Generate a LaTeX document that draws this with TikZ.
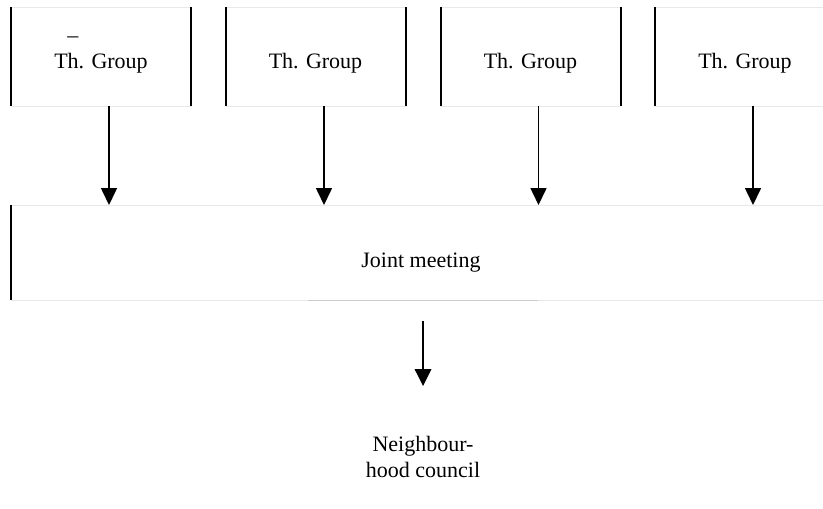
\documentclass[tikz,border=0pt]{standalone}
\usepackage{fontspec}
\setmainfont{Liberation Serif}
\usetikzlibrary{arrows.meta}
\begin{document}
\begin{tikzpicture}[x=0.75pt,y=-0.75pt,
  faint/.style={draw=black!9, line width=0.75pt},
  groupbox/.style={faint, minimum width=135pt, minimum height=74.25pt, inner sep=0pt, outer sep=0pt},
  jointbox/.style={faint, minimum width=615pt, minimum height=71.25pt, inner sep=0pt, outer sep=0pt},
  side/.style={draw=black, line width=1.5pt},
  lbl/.style={anchor=base, inner sep=0pt, font=\fontsize{16.5pt}{19.5pt}\selectfont},
  arr/.style={-{Triangle[length=12.75pt,width=12pt]}, line width=1.2pt},
  arrthin/.style={-{Triangle[length=12.75pt,width=12.5pt]}, line width=1pt}
]
\clip (0,0) rectangle (823,508);
\fill[white] (0,0) rectangle (823,508);

% group boxes
\node[groupbox] (g1) at (101,56.5) {};
\node[groupbox] (g2) at (316,56.5) {};
\node[groupbox] (g3) at (530.5,56.5) {};
\node[groupbox] (g4) at (745,56.5) {};
\foreach \g in {g1,g2,g3,g4}{
  \draw[side] (\g.north west) -- (\g.south west);
  \draw[side] (\g.north east) -- (\g.south east);
}
\node[lbl] (d1) at (72.8,42) {–};
\node[lbl] (t1) at (101,68) {Th. Group};
\node[lbl] (t2) at (315.5,68) {Th. Group};
\node[lbl] (t3) at (530.5,68) {Th. Group};
\node[lbl] (t4) at (745,68) {Th. Group};

% joint meeting
\node[jointbox] (jm) at (421,252.5) {};
\draw[side] (jm.north west) -- (jm.south west);
\draw[draw=black!20, line width=0.75pt] (308,300) -- (538,300);
\node[lbl] (jt) at (421,267) {Joint meeting};

% arrows
\foreach \g in {g1,g2,g3,g4}{
  \draw[arr] ([xshift=6pt]\g.south) -- ([xshift=6pt]\g.south |- jm.north);
}

% neighbourhood council
\node[lbl, align=center] (nc) at (423,477) {Neighbour-\\hood council};
\coordinate (nctip) at (423,386);
\draw[arrthin, shorten <=15.75pt] (jm.south -| nctip) -- (nctip);
\end{tikzpicture}
\end{document}
